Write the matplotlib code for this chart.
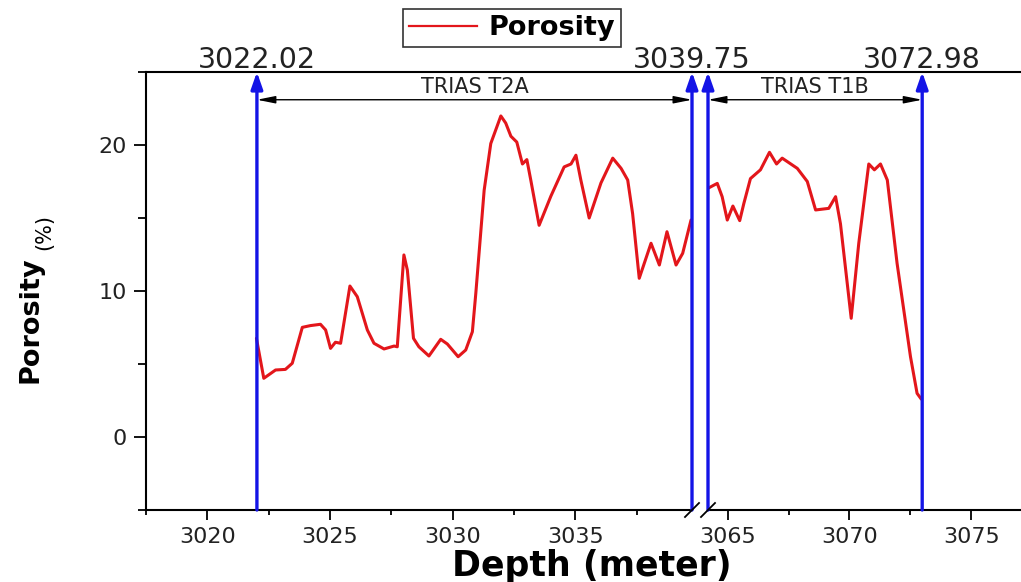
import matplotlib
matplotlib.use("Agg")
import matplotlib.pyplot as plt
from matplotlib.lines import Line2D
from matplotlib.ticker import MultipleLocator

# digitised porosity log, upper interval (TRIAS T2A)
depth_a = [3022.0, 3022.30, 3022.78, 3023.18, 3023.46, 3023.87, 3024.20, 3024.61,
           3024.82, 3025.02, 3025.22, 3025.43, 3025.81, 3026.11, 3026.52, 3026.79,
           3027.20, 3027.61, 3027.74, 3028.01, 3028.15, 3028.40, 3028.62, 3029.03,
           3029.51, 3029.78, 3030.22, 3030.53, 3030.80, 3030.94, 3031.28, 3031.55,
           3031.96, 3032.16, 3032.37, 3032.61, 3032.84, 3033.02, 3033.18, 3033.52,
           3034.00, 3034.54, 3034.82, 3035.02, 3035.22, 3035.56, 3036.04, 3036.52,
           3036.86, 3037.13, 3037.33, 3037.60, 3038.08, 3038.42, 3038.73, 3039.10,
           3039.37, 3039.71]
poro_a = [6.76, 4.02, 4.59, 4.63, 5.05, 7.51, 7.63, 7.72,
          7.33, 6.07, 6.49, 6.42, 10.34, 9.61, 7.33, 6.42,
          6.03, 6.23, 6.18, 12.47, 11.44, 6.76, 6.18, 5.55,
          6.69, 6.37, 5.50, 5.96, 7.21, 9.84, 16.9, 20.1,
          21.99, 21.5, 20.6, 20.2, 18.7, 19.0, 17.6, 14.5,
          16.5, 18.5, 18.7, 19.3, 17.6, 15.0, 17.4, 19.1,
          18.4, 17.6, 15.3, 10.87, 13.27, 11.78, 14.06, 11.78,
          12.58, 14.86]

# lower interval (TRIAS T1B)
depth_b = [3064.19, 3064.58, 3064.78, 3064.99, 3065.22, 3065.50, 3065.67, 3065.94,
           3066.35, 3066.72, 3067.01, 3067.24, 3067.86, 3068.27, 3068.61, 3069.15,
           3069.43, 3069.63, 3070.07, 3070.38, 3070.79, 3071.02, 3071.27, 3071.55,
           3071.95, 3072.50, 3072.77, 3072.94]
poro_b = [17.03, 17.37, 16.46, 14.86, 15.82, 14.82, 16.0, 17.7,
          18.3, 19.5, 18.7, 19.1, 18.4, 17.5, 15.55, 15.66,
          16.46, 14.6, 8.13, 13.27, 18.7, 18.3, 18.7, 17.6,
          11.9, 5.50, 2.99, 2.6]

tops = [3022.02, 3039.75, 3064.2, 3072.98]
top_labels = ["3022.02", "3039.75", "", "3072.98"]
zones = [("TRIAS T2A", 3022.02, 3039.75), ("TRIAS T1B", 3064.2, 3072.98)]

W, H = 1021, 582
RED = "#e3161b"
BLUE = "#1414e6"
TXT = "#222222"

fig = plt.figure(figsize=(W / 100, H / 100), dpi=100)
bot, top = (H - 510) / H, (H - 72) / H
axL = fig.add_axes([146 / W, bot, (692 - 146) / W, top - bot])
axR = fig.add_axes([708 / W, bot, (W - 708) / W, top - bot])

axL.set_xlim(3017.5, 3039.75)
axR.set_xlim(3064.2, 3077.03)
for ax in (axL, axR):
    ax.set_ylim(-5, 25)
    ax.xaxis.set_major_locator(MultipleLocator(5))
    ax.xaxis.set_minor_locator(MultipleLocator(2.5))
    ax.tick_params(axis="x", which="major", length=7, width=1.3, pad=5,
                   labelsize=16, labelcolor=TXT)
    ax.tick_params(axis="x", which="minor", length=3.5, width=1.3)
    ax.spines["right"].set_visible(False)
    for s in ("top", "bottom", "left"):
        ax.spines[s].set_linewidth(1.5)

axL.yaxis.set_major_locator(MultipleLocator(10))
axL.yaxis.set_minor_locator(MultipleLocator(5))
axL.tick_params(axis="y", which="major", length=9, width=1.3, pad=5,
                labelsize=16, labelcolor=TXT)
axL.tick_params(axis="y", which="minor", length=6, width=1.3)
axR.spines["left"].set_visible(False)
axR.tick_params(axis="y", which="both", left=False, labelleft=False)

axL.plot(depth_a, poro_a, color=RED, lw=2.2, zorder=3,
         solid_joinstyle="round", solid_capstyle="round")
axR.plot(depth_b, poro_b, color=RED, lw=2.2, zorder=3,
         solid_joinstyle="round", solid_capstyle="round")

# formation tops: blue arrows with depth labels
for d, lab in zip(tops, top_labels):
    ax = axL if d < 3050 else axR
    ax.annotate("", xy=(d, 25), xytext=(d, -5), annotation_clip=False,
                arrowprops=dict(arrowstyle="-|>,head_width=0.35,head_length=1.0",
                                color=BLUE, lw=2.4, shrinkA=0, shrinkB=0), zorder=4)
    if lab:
        ax.annotate(lab, xy=(d, 25), xytext=(0, 3), textcoords="offset points",
                    ha="center", va="baseline", fontsize=20.5, color=TXT,
                    annotation_clip=False)

# zone extents
for name, d0, d1 in zones:
    ax = axL if d0 < 3050 else axR
    ax.annotate("", xy=(d0, 23.1), xytext=(d1, 23.1), annotation_clip=False,
                arrowprops=dict(arrowstyle="<|-|>,head_width=0.22,head_length=1.1",
                                color="k", lw=1.0, shrinkA=0, shrinkB=0))
    ax.text((d0 + d1) / 2, 23.95, name, ha="center", va="center",
            fontsize=15, color=TXT)

# top spine across the gap and the break marks on the bottom axis
fig.add_artist(Line2D([692 / W, 708 / W], [top, top], color="k", lw=1.5))
for xe in (692, 708):
    fig.add_artist(Line2D([(xe - 7) / W, (xe + 7) / W],
                          [bot - 7 / H, bot + 7 / H], color="k", lw=1.3))

fig.text(592 / W, 1 - 576 / H, "Depth (meter)", ha="center", va="baseline",
         fontsize=25, fontweight="bold")
fig.text(31 / W, 1 - 320 / H, "Porosity", rotation=90, ha="center", va="center",
         fontsize=19.5, fontweight="bold")
fig.text(44 / W, 1 - 232 / H, "(%)", rotation=90, ha="center", va="center",
         fontsize=15)

leg = fig.legend([Line2D([], [], color=RED, lw=1.6)], ["Porosity"], loc="center",
                 bbox_to_anchor=(512 / W, 1 - 28 / H), frameon=True, fancybox=False,
                 edgecolor="k", handlelength=2.5, borderpad=0.22, handletextpad=0.45,
                 prop=dict(weight="bold", size=19.5))
leg.get_frame().set_linewidth(1.2)

fig.savefig("out.png", dpi=100)
